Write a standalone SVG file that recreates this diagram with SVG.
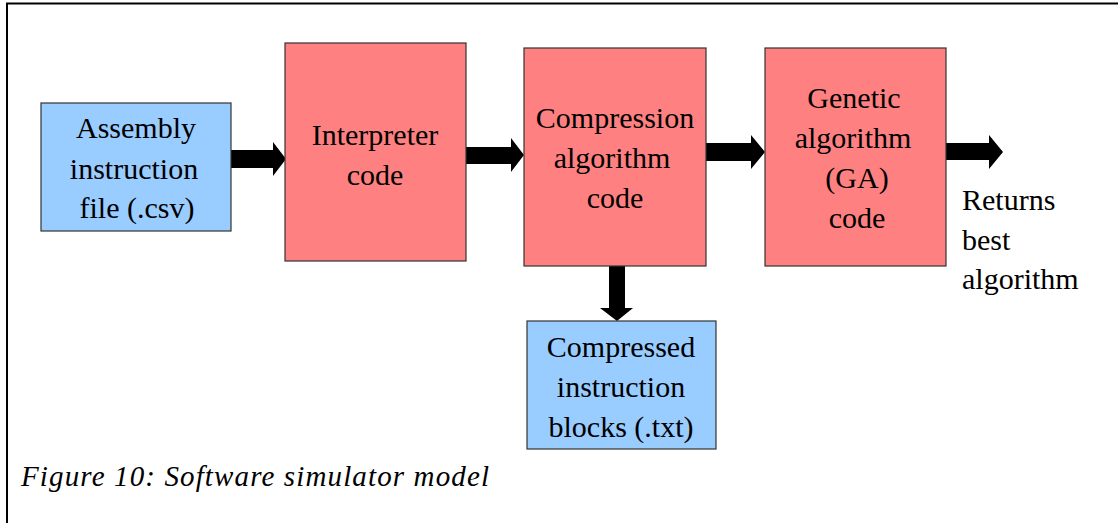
<svg xmlns="http://www.w3.org/2000/svg" width="1118" height="523" viewBox="0 0 1118 523">
<style>
.t{font-size:30px;fill:#000;text-anchor:middle}
.l{font-size:30px;fill:#000}
.cap{font-size:29px;font-style:italic;fill:#000}
.blue{fill:#99ccff;stroke:#333;stroke-width:1.2}
.red{fill:#ff8080;stroke:#333;stroke-width:1.2}
.arr{fill:#000}
</style>
<rect width="1118" height="523" fill="#fff"/>
<path d="M7,523 V3.5 H1118" fill="none" stroke="#000" stroke-width="2"/>
<g id="connectors">
<polygon class="arr" points="231,150 273,150 273,142 286,159 273,176 273,168 231,168"/>
<polygon class="arr" points="466,147 511,147 511,138 524,155 511,172 511,164 466,164"/>
<polygon class="arr" points="706,143 751,143 751,135 765,152 751,169 751,161 706,161"/>
<polygon class="arr" points="946,143 989,143 989,135 1003,152 989,169 989,160 946,160"/>
<polygon class="arr" points="609,266 625,266 625,308 633,308 617,321 600,308 609,308"/>
</g>
<g font-family="Liberation Serif, serif">
<g id="assembly">
<rect class="blue" x="41" y="103" width="190" height="128"/>
<text class="t" x="136" y="138">Assembly</text>
<text class="t" x="134" y="179">instruction</text>
<text class="t" x="137" y="218">file (.csv)</text>
</g>
<g id="interpreter">
<rect class="red" x="285" y="43" width="181" height="218"/>
<text class="t" x="375" y="145">Interpreter</text>
<text class="t" x="375" y="185">code</text>
</g>
<g id="compression">
<rect class="red" x="524" y="48" width="182" height="218"/>
<text class="t" x="615" y="128">Compression</text>
<text class="t" x="612" y="168">algorithm</text>
<text class="t" x="615" y="208">code</text>
</g>
<g id="genetic">
<rect class="red" x="765" y="48" width="181" height="218"/>
<text class="t" x="854" y="108">Genetic</text>
<text class="t" x="853" y="148">algorithm</text>
<text class="t" x="857" y="188">(GA)</text>
<text class="t" x="857" y="228">code</text>
</g>
<g id="compressed">
<rect class="blue" x="527" y="321" width="189" height="128"/>
<text class="t" x="621" y="357">Compressed</text>
<text class="t" x="621" y="397">instruction</text>
<text class="t" x="621" y="437">blocks (.txt)</text>
</g>
<g id="returns">
<text class="l" x="962" y="210">Returns</text>
<text class="l" x="962" y="250">best</text>
<text class="l" x="962" y="289">algorithm</text>
</g>
<text class="cap" x="21" y="486" textLength="468" lengthAdjust="spacing">Figure 10: Software simulator model</text>
</g>
</svg>
